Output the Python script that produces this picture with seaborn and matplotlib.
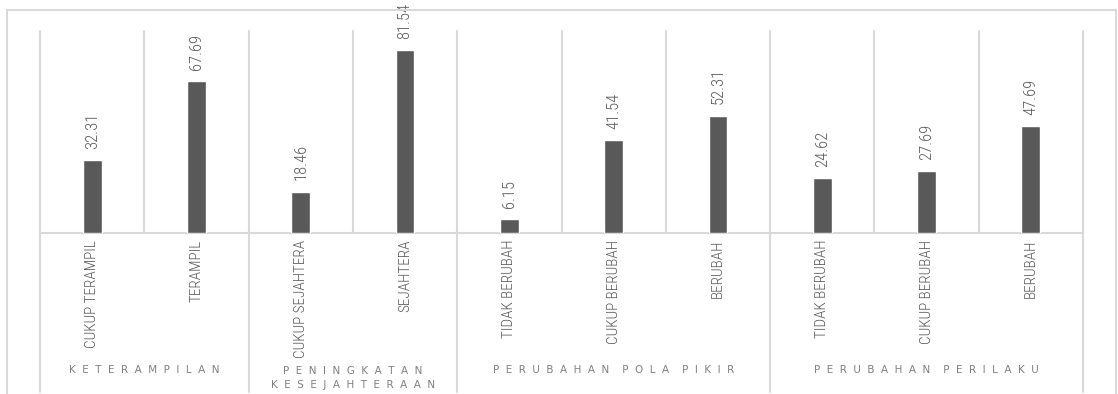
import numpy as np
import pandas as pd
import matplotlib
matplotlib.use("Agg")
import matplotlib.pyplot as plt
import matplotlib.transforms as mtransforms
from matplotlib.patches import Rectangle
import seaborn as sns

categories = ["CUKUP TERAMPIL", "TERAMPIL", "CUKUP SEJAHTERA", "SEJAHTERA",
              "TIDAK BERUBAH", "CUKUP BERUBAH", "BERUBAH",
              "TIDAK BERUBAH", "CUKUP BERUBAH", "BERUBAH"]
values = [32.31, 67.69, 18.46, 81.54, 6.15, 41.54, 52.31, 24.62, 27.69, 47.69]
groups = ["KETERAMPILAN", "PENINGKATAN\nKESEJAHTERAAN", "PERUBAHAN POLA PIKIR", "PERUBAHAN PERILAKU"]
group_sizes = [2, 2, 3, 3]

sns.set_theme(style="white")
narrow = ["Roboto Condensed", "DejaVu Sans"]
plt.rcParams["font.family"] = ["DejaVu Sans"]

W, H = 1118, 394
fig = plt.figure(figsize=(W / 100, H / 100), dpi=100)
fig.patch.set_facecolor("white")
ax = fig.add_axes([40 / W, 1 - 233 / H, (1083 - 40) / W, (233 - 31) / H])

df = pd.DataFrame({"pos": np.arange(len(values)), "value": values})
sns.barplot(data=df, x="pos", y="value", color="#595959", saturation=1,
            width=0.18, ax=ax, zorder=3)

gray = "#595959"
grid = "#d9d9d9"
ax.set_xlim(-0.5, len(values) - 0.5)
ax.set_ylim(0, 90)
ax.set_yticks([])
ax.set_xlabel("")
ax.set_ylabel("")
for s in ["top", "left", "right"]:
    ax.spines[s].set_visible(False)
ax.spines["bottom"].set_color(grid)
ax.spines["bottom"].set_linewidth(1.5)

# vertical gridlines between categories
for b in np.arange(-0.5, len(values), 1.0):
    ax.plot([b, b], [0, 90], color=grid, lw=1.5, zorder=1, clip_on=False)

# tick labels
ax.set_xticks(np.arange(len(values)))
ax.set_xticklabels(categories, rotation=90, va="top", ha="center",
                   fontsize=11, color=gray, family=narrow, fontweight=300)
ax.tick_params(axis="x", length=0, pad=5)

# data labels
for c in ax.containers:
    ax.bar_label(c, labels=[f"{v:.2f}" for v in values], rotation=90,
                 padding=8, fontsize=12, color=gray, family=narrow,
                 fontweight=300)

# group separators and labels
trans = mtransforms.blended_transform_factory(ax.transData, ax.transAxes)
bottom_ax = -(392 - 233) / (233 - 31)
edges = np.concatenate([[0], np.cumsum(group_sizes)]) - 0.5
for e in edges:
    ax.plot([e, e], [0, bottom_ax], color=grid, lw=1.5, transform=trans, clip_on=False)
for g, a, b in zip(groups, edges[:-1], edges[1:]):
    spaced = "\n".join("    ".join("  ".join(list(w)) for w in line.split(" "))
                       for line in g.split("\n"))
    nlines = g.count("\n") + 1
    y_pix = 370 if nlines == 1 else 378
    ax.text((a + b) / 2, -(y_pix - 233) / (233 - 31), spaced, transform=trans,
            ha="center", va="center", fontsize=7.5, color="#808080",
            linespacing=1.5, family=["DejaVu Sans"])

# outer chart frame
fig.patches.append(Rectangle((7 / W, -0.05), (1116 - 7) / W, 1.05 - 10 / H,
                             transform=fig.transFigure, fill=False,
                             edgecolor=grid, lw=1.5, zorder=0))

fig.savefig("out.png", dpi=100)
